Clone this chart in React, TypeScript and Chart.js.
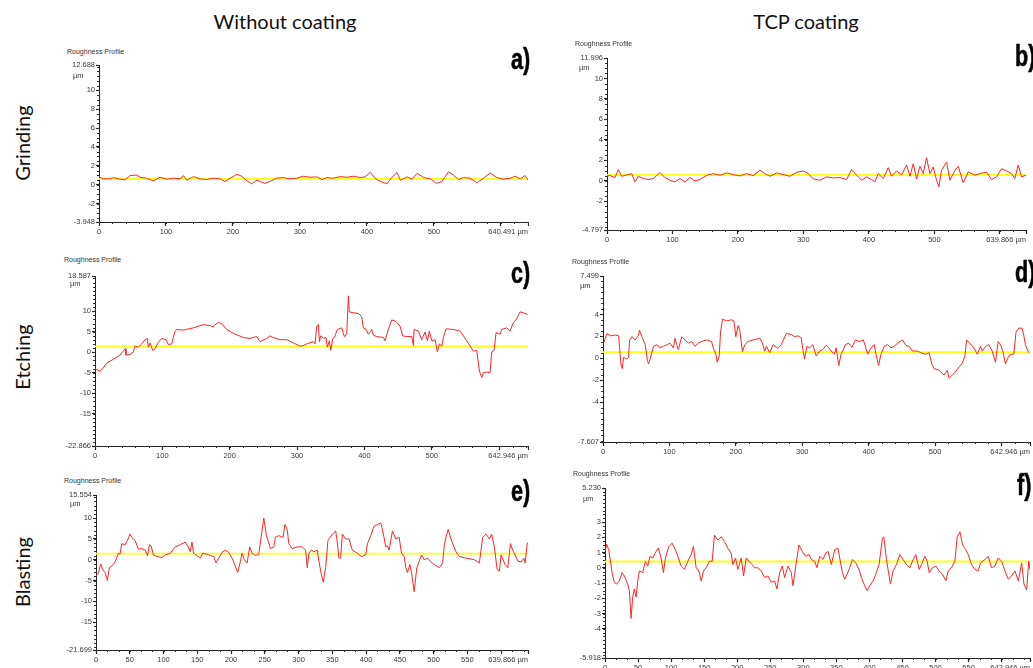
import React, { useEffect, useRef } from "react";
import { Chart, registerables } from "chart.js";

Chart.register(...registerables);

// ---------------- data: a) Grinding / Without coating ----------------
const aX = [0, 6.5, 16.4, 21.4, 31.4, 38.8, 46.3, 56.3, 61.3, 71.2, 81.2, 91.1, 101, 111, 121, 126, 131, 141, 151, 161, 171, 181, 188, 196, 206, 213, 221, 228, 236, 243, 248, 255, 265, 275, 285, 295, 305, 315, 325, 333, 340, 350, 360, 370, 380, 390, 397, 405, 412, 420, 430, 437, 445, 450, 460, 467, 475, 485, 495, 504, 512, 522, 529, 537, 544, 554, 564, 574, 584, 594, 604, 614, 621, 629, 636, 640.4];
const aY = [0.86, 0.62, 0.62, 0.76, 0.59, 0.52, 0.97, 1.03, 0.79, 0.69, 0.41, 0.79, 0.59, 0.69, 0.62, 0.97, 0.48, 0.86, 0.62, 0.55, 0.69, 0.62, 0.34, 0.69, 1.10, 0.90, 0.41, 0.10, 0.48, 0.28, 0.14, 0.34, 0.69, 0.76, 0.62, 0.69, 0.90, 0.79, 0.83, 0.55, 0.76, 0.69, 0.86, 0.79, 0.90, 0.76, 0.83, 1.31, 0.69, 0.34, 0.10, 0.76, 1.28, 0.48, 0.83, 0.59, 1.21, 0.76, 0.62, 0.14, 0.34, 1.38, 1.03, 0.55, 0.76, 0.69, 0.21, 0.69, 1.24, 0.76, 0.59, 0.69, 0.90, 0.62, 0.97, 0.52];
const aMean = 0.62;
const aXMax = 640.491;
const aXTicks = [0, 100, 200, 300, 400, 500, 600, 640.491];
const aXLabels = ["0", "100", "200", "300", "400", "500", "", "640.491 µm"];
const aYTicks = [-3.948, -2, 0, 2, 4, 6, 8, 10, 12.688];
const aYLabels = ["-3.948", "-2", "0", "2", "4", "6", "8", "10", "12.688"];

// ---------------- data: b) Grinding / TCP coating ----------------
const bX = [0, 4.6, 12.2, 17.3, 22.4, 30, 37.7, 42.7, 47.8, 55.5, 63.1, 70.7, 80.9, 88.5, 96.2, 103.8, 111.5, 119.1, 126.7, 134.4, 142, 152.2, 162.3, 172.5, 182.7, 192.9, 203.1, 213.2, 223.4, 233.6, 241.2, 248.9, 259, 269.2, 279.4, 289.6, 299.7, 307.4, 315, 325.2, 335.4, 345.5, 355.7, 365.9, 373.5, 381.2, 388.8, 396.4, 404.1, 409.2, 414.2, 421.9, 429.5, 434.6, 442.2, 449.9, 457.5, 462.6, 467.7, 472.8, 477.9, 482.9, 488, 493.1, 498.2, 503.3, 506.9, 510.9, 518.6, 523.7, 531.3, 536.4, 544, 551.7, 561.8, 569.5, 579.6, 587.3, 594.9, 602.5, 610.2, 617.8, 622.9, 628, 633.1, 639.8];
const bY = [0.48, 0.52, 0.32, 1.10, 0.45, 0.58, 0.71, -0.10, 0.45, 0.23, 0.13, 0.23, 0.81, 0.32, 0.06, -0.10, 0.23, -0.13, 0.32, 0.0, 0.13, 0.55, 0.71, 0.55, 0.77, 0.61, 0.48, 0.71, 0.52, 1.03, 0.71, 0.45, 0.77, 0.61, 0.45, 0.84, 0.97, 0.71, 0.19, 0.06, 0.39, 0.29, 0.32, 0.13, 1.10, 0.55, 0.06, 0.39, 0.13, -0.10, 0.71, 0.23, 1.29, 0.45, 0.97, 0.58, 1.55, 0.45, 1.68, 0.19, 1.42, 0.71, 2.26, 0.71, 1.35, 0.06, -0.58, 1.03, 1.84, 0.06, 1.03, 1.42, -0.19, 0.87, 0.55, 0.71, 0.84, 0.13, 0.39, 1.19, 0.97, 0.71, 0.23, 1.55, 0.39, 0.55];
const bMean = 0.58;
const bXMax = 639.866;
const bXTicks = [0, 100, 200, 300, 400, 500, 600, 639.866];
const bXLabels = ["0", "100", "200", "300", "400", "500", "", "639.866 µm"];
const bYTicks = [-4.797, -2, 0, 2, 4, 6, 8, 10, 11.996];
const bYLabels = ["-4.797", "-2", "0", "2", "4", "6", "8", "10", "11.996"];

// ---------------- data: c) Etching / Without coating ----------------
const cX = [0, 7.4, 12.4, 17.3, 27.2, 37.1, 44.6, 46.0, 52.0, 56.9, 59.4, 64.4, 69.3, 74.3, 77.7, 79.2, 81.7, 83.2, 85.6, 89.1, 94.1, 99.0, 105.4, 108.9, 113.9, 116.3, 118.8, 121.3, 131.2, 146.0, 160.9, 170.8, 175.7, 178.2, 183.2, 188.1, 195.5, 205.4, 220.3, 230.2, 240.1, 245.0, 254.9, 259.9, 264.9, 274.8, 284.7, 294.6, 304.5, 309.4, 314.4, 324.3, 326.7, 329.2, 331.7, 333.2, 335.1, 339.1, 343.1, 345.0, 348.0, 350.0, 353.0, 356.4, 359.9, 366.3, 370.3, 373.8, 376.2, 377.7, 383.7, 391.1, 396.0, 398.5, 402.5, 405.9, 410.9, 413.4, 418.3, 428.2, 430.7, 435.6, 440.6, 447.0, 453.0, 456.9, 462.9, 470.3, 472.8, 473.8, 480.2, 485.1, 490.1, 493.6, 496.5, 500.0, 505.0, 508.4, 511.4, 514.9, 517.3, 521.3, 532.2, 542.1, 552.0, 561.9, 566.8, 570.8, 574.3, 576.7, 581.7, 586.6, 589.1, 592.6, 595.5, 601.5, 604.0, 611.4, 616.3, 621.3, 625.2, 631.2, 636.1, 642.6];
const cY = [-3.98, -4.61, -3.83, -2.66, -1.72, -0.70, 0.86, -0.70, -0.55, 0.08, 1.48, 1.25, 2.03, 3.05, 3.36, 1.25, 2.27, 1.64, 0.47, 0.86, 2.42, 3.36, 3.05, 1.88, 2.03, 3.59, 5.0, 5.55, 5.39, 5.94, 6.72, 6.48, 6.17, 6.72, 7.27, 6.95, 5.55, 4.61, 3.59, 3.36, 3.83, 2.58, 3.36, 3.98, 3.59, 3.05, 3.05, 2.27, 1.48, 1.64, 2.03, 2.58, 2.03, 6.33, 6.8, 2.58, 3.98, 3.36, 3.59, 1.25, 2.81, 0.47, 3.20, 3.98, 5.55, 5.94, 3.83, 4.38, 13.75, 9.84, 9.61, 9.45, 8.67, 5.94, 5.55, 4.38, 5.55, 4.14, 3.83, 3.59, 2.81, 5.55, 7.89, 7.5, 6.33, 3.98, 3.83, 3.83, 1.64, 5.55, 5.16, 3.05, 4.92, 2.81, 5.16, 2.81, 3.05, 0.08, 2.03, 1.48, 3.59, 5.7, 5.55, 5.16, 2.81, 0.23, 0.47, -4.61, -6.17, -5.0, -4.84, -5.0, 0.08, 0.47, 4.77, 4.38, 5.55, 5.94, 5.16, 7.27, 7.89, 9.84, 9.61, 9.22];
const cMean = 1.41;
const cXMax = 642.946;
const cXTicks = [0, 100, 200, 300, 400, 500, 600, 642.946];
const cXLabels = ["0", "100", "200", "300", "400", "500", "", "642.946 µm"];
const cYTicks = [-22.866, -15, -10, -5, 0, 5, 10, 18.587];
const cYLabels = ["-22.866", "-15", "-10", "-5", "0", "5", "10", "18.587"];

// ---------------- data: d) Etching / TCP coating ----------------
const dX = [1, 3.5, 6, 11, 18.5, 23.5, 25, 27, 29, 31, 36, 38.5, 40, 43.5, 48.5, 53.5, 55, 58.5, 63.5, 67, 68.5, 71, 76, 81, 86, 91, 96, 101, 106, 108.5, 111, 113.5, 118.5, 123.5, 128.5, 133.5, 138.5, 143.5, 148.5, 156, 163.5, 166, 170, 172, 175, 177, 180, 186, 193.5, 197, 200, 203.5, 206, 210, 213.5, 218.5, 226, 236, 240, 243.5, 246, 251, 256, 263.5, 268.5, 276, 283.5, 288.5, 293.5, 298.5, 301, 303.5, 307, 311, 316, 321, 326, 331, 336, 340, 343.5, 348.5, 351, 355, 358.5, 361, 365, 370, 375, 380, 386, 392, 395, 398.5, 403.5, 408.5, 412, 415, 418.5, 423.5, 428.5, 433.5, 438.5, 443.5, 451, 456, 461, 466, 473.5, 478.5, 486, 491, 495, 498.5, 506, 513.5, 518.5, 521, 526, 531, 536, 541, 545, 547.5, 552, 558.5, 563.5, 568.5, 571, 576, 581, 586, 591, 595, 598.5, 602, 606, 610, 613.5, 618.5, 622, 626, 631, 633.5, 636, 641];
const dY = [1.39, 1.83, 2.26, 2.06, 2.12, 2.06, 0.96, -0.49, -0.93, 0.09, -0.06, 0.09, 1.68, 1.97, 1.68, 2.12, 2.55, 1.97, 1.25, -0.2, -0.49, -0.06, 1.10, 1.25, 0.96, 1.10, 1.25, 1.39, 0.96, 1.83, 1.25, 0.81, 1.97, 1.68, 1.39, 1.54, 1.10, 1.39, 1.54, 1.68, 1.54, 0.96, 0.38, -0.35, 0.23, 2.41, 3.57, 3.42, 3.51, 3.42, 1.97, 2.99, 2.55, 0.61, 1.25, 1.54, 1.68, 1.83, 1.39, 0.67, 1.10, 0.52, 1.25, 0.90, 1.25, 2.26, 2.17, 1.97, 2.06, 1.88, 0.81, -0.06, 1.10, 0.96, 1.25, 0.23, 0.67, 0.81, 1.19, 0.96, 0.67, 0.38, 0.96, -0.64, 0.38, 0.67, 1.25, 1.39, 1.01, 1.68, 1.54, 1.68, 1.10, 0.38, 0.96, 1.25, 0.09, -0.64, 0.38, 1.10, 1.25, 0.96, 1.10, 1.39, 1.68, 1.19, 1.10, 0.67, 0.67, 0.52, 0.38, 0.52, -0.49, -0.93, -1.07, -1.51, -1.07, -1.80, -1.51, -1.22, -0.78, -0.43, 0.23, 1.68, 1.39, 0.96, 0.38, 1.10, 0.67, 1.10, 1.25, 0.67, -0.35, 1.54, 1.25, 0.67, -0.49, 0.09, 0.38, 0.38, 2.41, 2.75, 2.75, 2.12, 1.25, 0.52];
const dMean = 0.58;
const dXMax = 642.946;
const dXTicks = [0, 100, 200, 300, 400, 500, 600, 642.946];
const dXLabels = ["0", "100", "200", "300", "400", "500", "", "642.946 µm"];
const dYTicks = [-7.607, -4, -2, 0, 2, 4, 7.499];
const dYLabels = ["-7.607", "-4", "-2", "0", "2", "4", "7.499"];

// ---------------- data: e) Blasting / Without coating ----------------
const eX = [0, 3.5, 6.9, 9.9, 13.4, 15.8, 16.8, 19.8, 23.3, 28.2, 33.2, 35.6, 38.1, 43.1, 46.5, 50.5, 53.0, 57.9, 62.9, 67.8, 72.8, 76.2, 79.2, 81.7, 85.1, 90.1, 97.5, 102.5, 109.9, 117.3, 124.8, 132.2, 136.1, 139.6, 142.1, 144.6, 149.5, 154.5, 157.9, 164.4, 169.3, 174.3, 177.7, 181.7, 186.6, 191.6, 196.5, 201.5, 206.4, 209.9, 213.9, 216.3, 219.8, 223.8, 227.7, 231.2, 236.1, 241.1, 243.6, 248.5, 252.5, 258.4, 263.4, 265.8, 270.8, 277.2, 279.7, 283.2, 285.6, 290.6, 298.0, 305.4, 310.4, 312.9, 315.3, 318.8, 322.8, 327.7, 330.2, 333.7, 336.6, 340.1, 343.6, 350.0, 355.0, 357.4, 359.9, 362.4, 364.9, 369.8, 374.8, 379.7, 387.1, 393.1, 399.5, 402.0, 406.9, 411.9, 416.8, 421.8, 425.7, 429.2, 431.7, 434.2, 439.1, 444.1, 449.0, 452.5, 456.4, 458.9, 461.4, 464.9, 467.3, 471.3, 475.2, 478.7, 482.2, 486.1, 491.1, 496.0, 501.0, 508.4, 513.4, 515.8, 518.3, 521.8, 525.7, 529.7, 533.2, 538.1, 548.0, 560.4, 567.8, 572.8, 577.7, 582.7, 586.1, 590.1, 594.1, 597.5, 600.0, 605.9, 609.9, 613.9, 617.3, 620.8, 624.8, 629.7, 633.7, 635.6, 638.6, 639.8];
const eY = [-3.85, -3.31, -1.0, -2.31, -3.08, -4.23, -5.0, -1.92, -1.54, -0.54, 1.54, 1.31, 3.85, 3.62, 4.62, 6.15, 5.38, 4.62, 2.54, 2.69, 2.31, 1.0, 3.62, 3.31, 1.15, 0.77, 0.54, 1.15, 1.54, 3.08, 3.62, 4.23, 3.31, 1.92, 4.23, 1.54, 1.0, 0.38, 1.54, 1.31, 1.0, 0.77, -0.77, 0.38, 1.77, 2.31, 1.77, 0.38, -1.54, -3.08, -0.38, 1.54, 0, -0.77, 3.08, 1.54, 1.0, 1.31, 4.23, 10.0, 5.77, 2.69, 3.08, 5.38, 5.77, 5.38, 8.46, 7.31, 3.85, 2.69, 3.08, 3.08, 2.31, -1.92, 1.54, 2.31, 1.92, 2.31, -0.38, -3.46, -5.38, -1.92, 4.62, 6.15, 6.92, 4.23, 0.38, 0.38, 6.15, 5.0, 5.0, 2.31, 1.54, 0.77, 1.15, 3.85, 5.77, 8.08, 8.46, 8.85, 6.15, 3.08, 3.31, 2.31, 6.92, 5.0, 5.38, 1.54, 0.77, -1.92, -3.08, -1.15, -3.08, -7.69, -1.92, -0.38, 1.15, 0, 0.38, -0.54, -1.15, -1.92, -0.77, 3.46, 5.38, 7.31, 5.0, 3.31, 1.92, 0.77, 0.38, 0, -0.77, 5.38, 6.15, 5.0, 6.15, 3.08, -2.31, -2.69, 1.15, -1.15, -1.92, 3.85, 2.31, 1.15, -0.38, -0.54, 0.38, -0.77, 3.85, 4.23];
const eMean = 1.46;
const eXMax = 639.866;
const eXTicks = [0, 50, 100, 150, 200, 250, 300, 350, 400, 450, 500, 550, 600, 639.866];
const eXLabels = ["0", "50", "100", "150", "200", "250", "300", "350", "400", "450", "500", "550", "", "639.866 µm"];
const eYTicks = [-21.699, -15, -10, -5, 0, 5, 10, 15.554];
const eYLabels = ["-21.699", "-15", "-10", "-5", "0", "5", "10", "15.554"];

// ---------------- data: f) Blasting / TCP coating ----------------
const fX = [0, 2.5, 5.6, 7.6, 10.6, 14.1, 17.7, 21.7, 25.8, 29.3, 34.3, 36.9, 39.4, 41.9, 44.4, 47.0, 49.5, 52.0, 57.1, 61.1, 64.6, 68.2, 72.2, 77.3, 80.8, 84.8, 88.4, 91.4, 96.5, 101.5, 106.6, 110.1, 115.2, 120.2, 125.3, 130.3, 133.8, 137.9, 141.9, 145.5, 149.0, 153.0, 158.1, 162.1, 165.7, 170.7, 175.8, 180.8, 185.9, 190.9, 193.4, 197.5, 201.0, 206.1, 209.6, 213.6, 217.7, 222.7, 226.3, 231.3, 236.4, 241.4, 246.5, 251.5, 256.6, 260.1, 264.1, 268.2, 271.7, 276.8, 281.8, 284.3, 286.9, 290.4, 293.4, 298.5, 303.5, 308.6, 312.1, 317.2, 320.7, 324.7, 329.8, 333.8, 337.4, 342.4, 347.5, 352.5, 355.1, 359.1, 362.6, 366.2, 370.2, 374.2, 379.3, 384.3, 387.9, 392.9, 396.5, 400.5, 405.6, 409.6, 414.6, 419.7, 421.7, 425.8, 429.8, 431.8, 435.9, 440.9, 446.0, 451.0, 456.1, 461.1, 466.2, 470.2, 475.3, 478.8, 483.8, 487.4, 490.4, 495.5, 500.5, 505.6, 510.6, 515.7, 519.2, 524.2, 529.3, 532.8, 536.9, 540.9, 545.9, 549.5, 554.5, 559.6, 564.6, 568.2, 574.7, 579.8, 584.8, 589.9, 594.9, 600.0, 605.1, 610.1, 615.2, 620.2, 625.3, 630.3, 633.8, 637.9, 641.0, 642.9];
const fY = [1.07, 1.54, 1.18, 0.64, -0.32, -0.96, -1.07, -0.86, -0.32, -0.54, -1.07, -1.5, -3.32, -1.93, -1.39, -1.93, -0.86, -0.21, -0.32, 0.43, 0.11, 0.75, 0.64, 1.07, 1.28, 0.64, -0.32, 0.64, 1.39, 1.61, 1.18, 0.75, 0.11, -0.11, 0.43, 0.86, 1.39, 0, -0.21, -0.86, -0.21, 0, 0.43, 0.43, 2.14, 1.82, 2.03, 1.71, 1.28, 0.96, 0.21, 0.64, -0.11, 0.64, -0.54, 0.64, 0.43, 0.21, 0, 0, -0.21, -0.64, -0.54, -0.96, -0.86, -1.39, -0.32, 0.11, -0.64, 0.11, -0.32, -1.18, -0.43, 0.64, 1.50, 1.07, 0.75, 0.86, 0.54, 0.43, 0, 0.75, 0.54, 0.96, 1.07, 0.21, 1.18, 1.28, 0.64, -0.32, -0.75, -0.43, 0, 0.54, 0.32, -0.11, -0.64, -1.18, -1.5, -1.18, -0.86, -0.43, 0.21, 1.93, 2.03, 0.54, -0.54, -1.07, -0.21, 0.21, 0.86, 0.54, 0.21, 0, 0.54, 0.86, -0.11, 0.21, 0.75, 0.43, -0.32, 0, 0.11, -0.21, -0.43, -0.86, -0.21, 0, 0.43, 2.03, 2.36, 1.50, 1.18, 0.86, 0.21, -0.11, -0.21, 0.32, 0.54, 0.75, 0, 0.11, 0.64, 0.43, -0.21, -0.75, -0.54, -0.21, -0.86, 0.32, -1.07, -1.46, 0.43, -0.11];
const fMean = 0.41;
const fXMax = 642.946;
const fXTicks = [0, 50, 100, 150, 200, 250, 300, 350, 400, 450, 500, 550, 600, 642.946];
const fXLabels = ["0", "50", "100", "150", "200", "250", "300", "350", "400", "450", "500", "550", "", "642.946 µm"];
const fYTicks = [-5.918, -4, -3, -2, -1, 0, 1, 2, 3, 5.23];
const fYLabels = ["-5.918", "-4", "-3", "-2", "-1", "0", "1", "2", "3", "5.230"];

const columnTitles = ["Without coating", "TCP coating"];
const rowTitles = ["Grinding", "Etching", "Blasting"];
const panelTitle = "Roughness Profile";
const unitLabel = "µm";

// ---------------- layout / style ----------------
const YW = 44;
const XH = 22;
const PT = 8;
const PR = 52;
const TICK_FONT = "'Liberation Sans', Arial, sans-serif";
const TEXT_FONT = "Lato, 'Open Sans', sans-serif";
const LETTER_FONT = "'Liberation Sans Narrow', 'Liberation Sans', Arial, sans-serif";

type Spec = {
  xs: number[]; ys: number[]; mean: number; xMax: number;
  xTicks: number[]; xLabels: string[]; yTicks: number[]; yLabels: string[];
  xMinor: number; yMinor: number;
  rect: [number, number, number, number];
  letter: string; letterPos: [number, number];
  titlePos: [number, number]; unitPos: [number, number];
};

const PANELS: Spec[] = [
  { xs: aX, ys: aY, mean: aMean, xMax: aXMax, xTicks: aXTicks, xLabels: aXLabels, yTicks: aYTicks, yLabels: aYLabels, xMinor: 20, yMinor: 0.5, rect: [99, 65, 528, 222], letter: "a)", letterPos: [511, 44], titlePos: [67, 47], unitPos: [73, 71] },
  { xs: bX, ys: bY, mean: bMean, xMax: bXMax, xTicks: bXTicks, xLabels: bXLabels, yTicks: bYTicks, yLabels: bYLabels, xMinor: 20, yMinor: 0.5, rect: [607, 58, 1026, 230], letter: "b)", letterPos: [1015, 41], titlePos: [575, 39], unitPos: [579, 63] },
  { xs: cX, ys: cY, mean: cMean, xMax: cXMax, xTicks: cXTicks, xLabels: cXLabels, yTicks: cYTicks, yLabels: cYLabels, xMinor: 20, yMinor: 1, rect: [95, 276, 528, 446], letter: "c)", letterPos: [511, 258], titlePos: [64, 255], unitPos: [70, 279] },
  { xs: dX, ys: dY, mean: dMean, xMax: dXMax, xTicks: dXTicks, xLabels: dXLabels, yTicks: dYTicks, yLabels: dYLabels, xMinor: 20, yMinor: 0.5, rect: [603, 276, 1030, 442], letter: "d)", letterPos: [1015, 257], titlePos: [572, 257], unitPos: [580, 281] },
  { xs: eX, ys: eY, mean: eMean, xMax: eXMax, xTicks: eXTicks, xLabels: eXLabels, yTicks: eYTicks, yLabels: eYLabels, xMinor: 50 / 3, yMinor: 1, rect: [96, 495, 528, 650], letter: "e)", letterPos: [511, 476], titlePos: [64, 476], unitPos: [70, 499] },
  { xs: fX, ys: fY, mean: fMean, xMax: fXMax, xTicks: fXTicks, xLabels: fXLabels, yTicks: fYTicks, yLabels: fYLabels, xMinor: 50 / 3, yMinor: 0.25, rect: [605, 488, 1030, 658], letter: "f)", letterPos: [1017, 470], titlePos: [573, 469], unitPos: [583, 494] },
];

const minorTicksPlugin = {
  id: "minorTicks",
  afterDraw(chart: any, _args: any, opts: any) {
    const { ctx } = chart;
    const x = chart.scales.x;
    const y = chart.scales.y;
    ctx.save();
    ctx.strokeStyle = "#333";
    ctx.lineWidth = 1;
    ctx.beginPath();
    for (let v = 0; v <= x.max + 1e-6; v += opts.xStep) {
      const px = Math.round(x.getPixelForValue(v)) + 0.5;
      ctx.moveTo(px, x.top);
      ctx.lineTo(px, x.top + 2);
    }
    const start = Math.ceil(y.min / opts.yStep) * opts.yStep;
    for (let v = start; v <= y.max + 1e-6; v += opts.yStep) {
      const py = Math.round(y.getPixelForValue(v)) + 0.5;
      ctx.moveTo(y.right, py);
      ctx.lineTo(y.right - 2, py);
    }
    ctx.stroke();
    ctx.restore();
  },
};

function Panel({ p }: { p: Spec }) {
  const ref = useRef<HTMLCanvasElement>(null);
  const [L, T, R, B] = p.rect;
  const w = R - L + YW + PR;
  const h = B - T + PT + XH;
  useEffect(() => {
    const lastX = p.xTicks.length - 1;
    const pad = "\u00a0".repeat(19);
    const chart = new Chart(ref.current as HTMLCanvasElement, {
      type: "line",
      data: {
        datasets: [
          {
            data: p.xs.map((x, i) => ({ x, y: p.ys[i] })),
            borderColor: "#ff2424",
            borderWidth: 1,
            pointRadius: 0,
            tension: 0,
            order: 0,
          },
          {
            data: [{ x: 0, y: p.mean }, { x: p.xMax, y: p.mean }],
            borderColor: "#ffff1e",
            borderWidth: 1.8,
            pointRadius: 0,
            order: 1,
          },
        ],
      },
      options: {
        animation: false,
        responsive: false,
        events: [],
        layout: { padding: { top: PT, right: PR, left: 0, bottom: 0 } },
        plugins: {
          legend: { display: false },
          tooltip: { enabled: false },
          minorTicks: { xStep: p.xMinor, yStep: p.yMinor },
        } as any,
        scales: {
          x: {
            type: "linear",
            min: 0,
            max: p.xMax,
            afterBuildTicks: (s: any) => { s.ticks = p.xTicks.map((v) => ({ value: v })); },
            afterFit: (s: any) => { s.height = XH; },
            ticks: {
              autoSkip: false,
              maxRotation: 0,
              minRotation: 0,
              padding: 1,
              color: "#3a3a3a",
              font: { family: TICK_FONT, size: 7.5 },
              callback: (_v: any, i: number) => (i === lastX ? p.xLabels[i] + pad : p.xLabels[i]),
            },
            grid: { display: true, drawOnChartArea: false, drawTicks: true, tickLength: 4, tickColor: "#222", tickWidth: 1.2 },
            border: { display: true, color: "#222", width: 1 },
          },
          y: {
            type: "linear",
            min: p.yTicks[0],
            max: p.yTicks[p.yTicks.length - 1],
            afterBuildTicks: (s: any) => { s.ticks = p.yTicks.map((v) => ({ value: v })); },
            afterFit: (s: any) => { s.width = YW; },
            ticks: {
              autoSkip: false,
              padding: 1,
              color: "#3a3a3a",
              font: { family: TICK_FONT, size: 7.5 },
              callback: (_v: any, i: number) => p.yLabels[i],
            },
            grid: { display: true, drawOnChartArea: false, drawTicks: true, tickLength: 3, tickColor: "#222", tickWidth: 1.2 },
            border: { display: true, color: "#222", width: 1 },
          },
        },
      } as any,
      plugins: [minorTicksPlugin as any],
    });
    return () => chart.destroy();
  }, []);
  return (
    <>
      <canvas
        ref={ref}
        width={w}
        height={h}
        style={{ position: "absolute", left: L - YW, top: T - PT, width: w, height: h }}
      />
      <div style={{ position: "absolute", left: p.titlePos[0], top: p.titlePos[1], font: `7px ${TICK_FONT}`, color: "#333", whiteSpace: "nowrap", lineHeight: "10px" }}>{panelTitle}</div>
      <div style={{ position: "absolute", left: p.unitPos[0], top: p.unitPos[1], font: `7.5px ${TICK_FONT}`, color: "#3a3a3a", whiteSpace: "nowrap", lineHeight: "10px" }}>{unitLabel}</div>
      <div style={{ position: "absolute", left: p.letterPos[0], top: p.letterPos[1], fontFamily: LETTER_FONT, fontWeight: 900, fontSize: 30, lineHeight: "30px", color: "#000", whiteSpace: "nowrap", transform: "scaleX(0.72)", transformOrigin: "0 0", WebkitTextStroke: "0.6px #000" }}>{p.letter}</div>
    </>
  );
}

export default function App() {
  const colX = [285, 806];
  const rowY = [143, 357, 572];
  return (
    <div style={{ position: "relative", width: 1033, height: 668, overflow: "hidden", background: "#fff" }}>
      <style>{"html,body{margin:0;padding:0;background:#fff}"}</style>
      {columnTitles.map((t, i) => (
        <div key={t} style={{ position: "absolute", left: colX[i], top: 21, transform: "translate(-50%,-50%)", fontFamily: TEXT_FONT, fontSize: 20, color: "#111", whiteSpace: "nowrap" }}>{t}</div>
      ))}
      {rowTitles.map((t, i) => (
        <div key={t} style={{ position: "absolute", left: 22, top: rowY[i], transform: "translate(-50%,-50%) rotate(-90deg)", fontFamily: TEXT_FONT, fontSize: 20, color: "#111", whiteSpace: "nowrap" }}>{t}</div>
      ))}
      {PANELS.map((p, i) => (
        <Panel key={i} p={p} />
      ))}
    </div>
  );
}
